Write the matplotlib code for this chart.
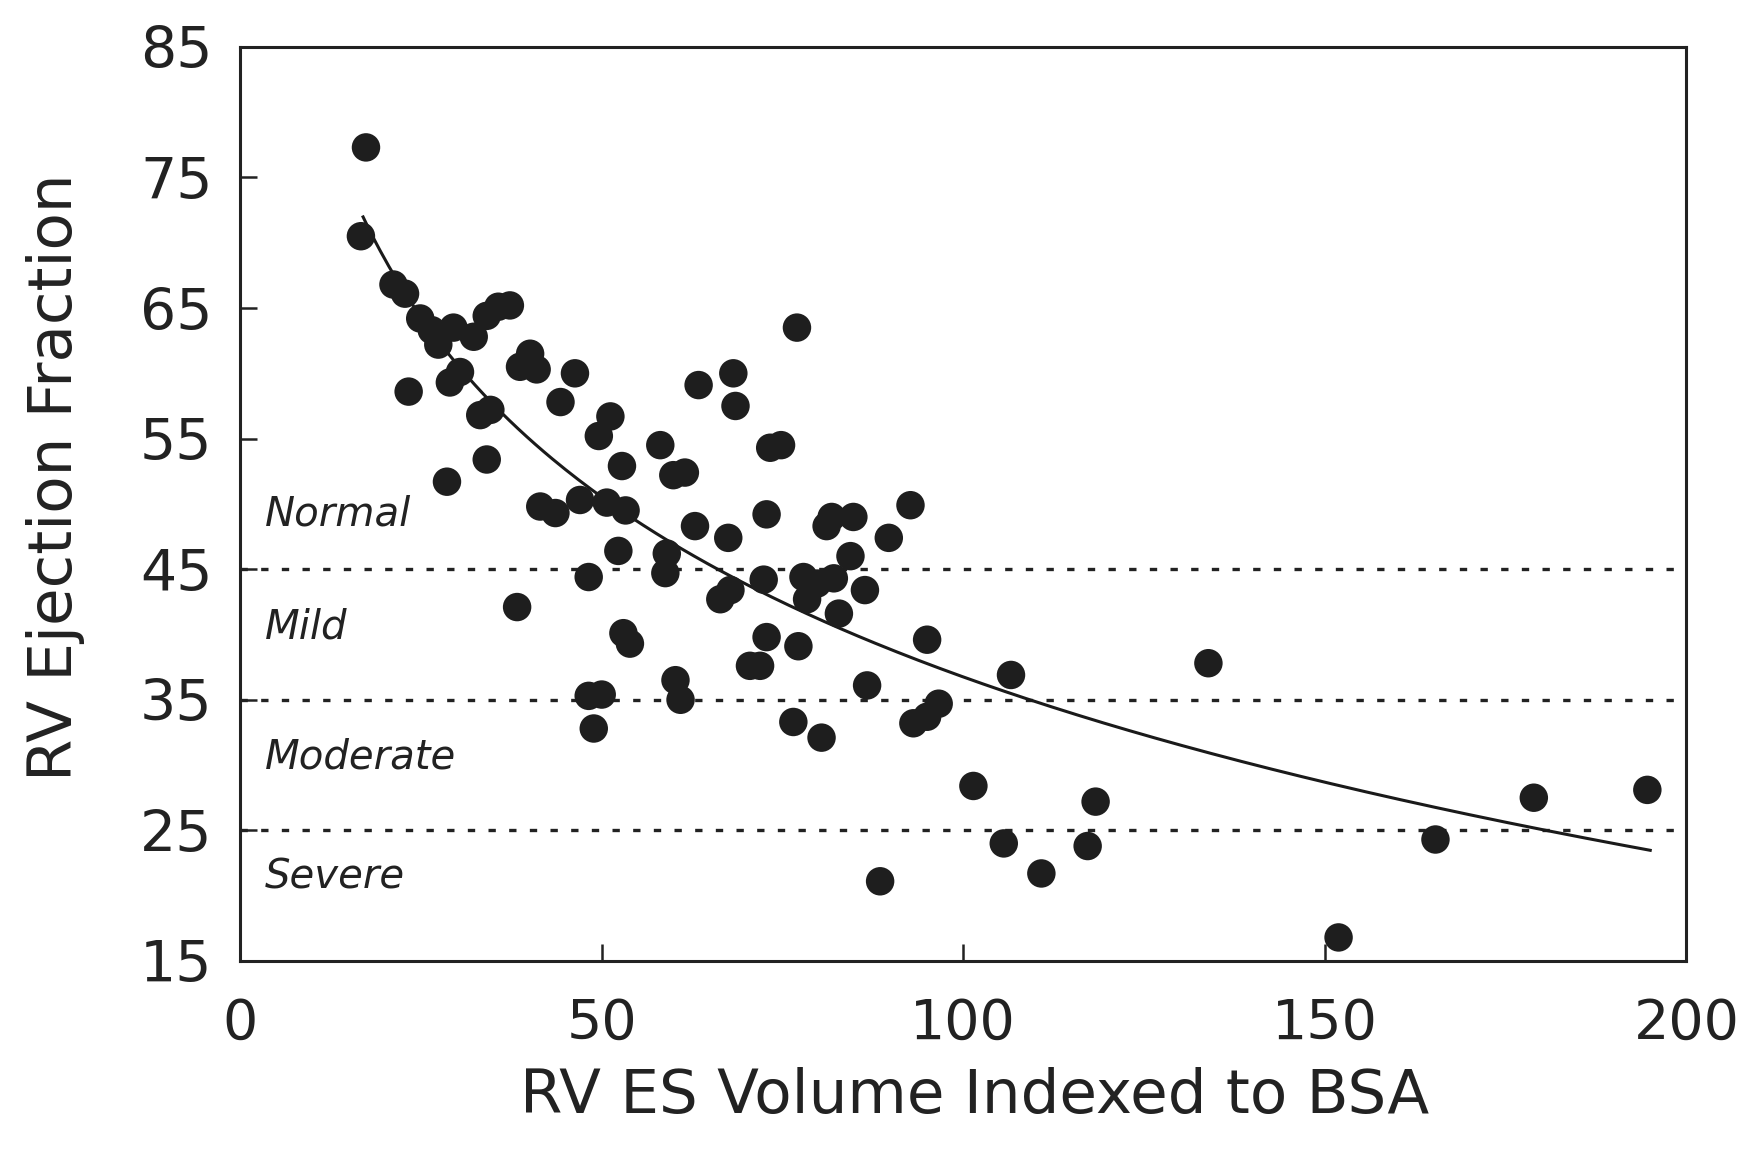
import numpy as np
import matplotlib
matplotlib.use("Agg")
import matplotlib.pyplot as plt

plt.rcParams['font.family'] = ['DejaVu Sans']

# RV ES volume indexed to BSA (x) and RV ejection fraction (y)
es_volume = [
    17.4, 16.7, 21.2, 22.8, 24.9, 26.5, 27.4, 29.5, 32.3, 34.1, 35.7, 37.3,
    30.4, 29.0, 23.3, 33.2, 34.6, 34.1, 28.6,
    40.1, 38.7, 41.0, 46.3, 44.3, 51.2, 49.6, 52.8, 58.1, 59.9, 61.5, 63.4,
    68.2, 68.5, 77.0, 73.3, 74.8,
    41.5, 43.6, 47.0, 50.7, 53.3,
    38.3, 52.3, 48.2, 62.9, 59.0, 58.8, 67.5, 72.8, 66.4, 67.8, 72.4, 53.0,
    53.9, 72.8, 77.2, 70.5, 71.9, 48.2, 50.0, 48.9, 60.2, 60.9, 86.7, 76.5,
    80.4, 92.7, 89.7, 81.1, 81.8, 84.8, 84.4, 77.9, 79.8, 82.1, 78.4, 82.8,
    86.4, 95.0, 93.1, 95.0, 96.6,
    106.6, 133.9, 101.4, 118.3, 105.6, 117.2, 110.8, 88.5, 151.9, 165.3,
    178.9, 194.6,
]
ejection_fraction = [
    77.3, 70.5, 66.8, 66.1, 64.2, 63.3, 62.2, 63.5, 62.8, 64.4, 65.1, 65.2,
    60.1, 59.3, 58.6, 56.8, 57.2, 53.4, 51.7,
    61.5, 60.5, 60.3, 60.0, 57.8, 56.7, 55.2, 52.9, 54.5, 52.2, 52.4, 59.1,
    60.0, 57.5, 63.5, 54.3, 54.5,
    49.8, 49.3, 50.3, 50.1, 49.5,
    42.1, 46.4, 44.4, 48.3, 46.2, 44.7, 47.4, 49.2, 42.7, 43.4, 44.2, 40.1,
    39.3, 39.8, 39.1, 37.6, 37.6, 35.3, 35.4, 32.8, 36.5, 35.0, 36.1, 33.3,
    32.1, 49.9, 47.4, 48.3, 49.0, 49.0, 46.0, 44.4, 43.9, 44.3, 42.7, 41.6,
    43.4, 39.6, 33.2, 33.7, 34.7,
    36.9, 37.8, 28.4, 27.2, 24.0, 23.8, 21.7, 21.1, 16.8, 24.3,
    27.5, 28.1,
]

# logarithmic trend line drawn in the figure: EF = a + b*ln(x)
trend_a = 128.3
trend_b = -19.88
trend_range = [17.0, 195.0]

thresholds = [45, 35, 25]
category_labels = ["Normal", "Mild", "Moderate", "Severe"]
category_y = [49.2, 40.6, 30.6, 21.4]

x_ticks = [0, 50, 100, 150, 200]
y_ticks = [15, 25, 35, 45, 55, 65, 75, 85]

fig = plt.figure(figsize=(17.53, 11.60), dpi=100)
ax = fig.add_axes([0.137, 0.1716, 0.825, 0.788])

for t in thresholds:
    ax.axhline(t, color='#222222', lw=2.4, ls=(0, (2.2, 4.0)), zorder=1)

ax.scatter(es_volume, ejection_fraction, s=420, color='#1e1e1e', zorder=3,
           edgecolors='none')

xs = np.linspace(trend_range[0], trend_range[1], 300)
ax.plot(xs, trend_a + trend_b * np.log(xs), color='#1a1a1a', lw=2.2, zorder=2)

for lab, yy in zip(category_labels, category_y):
    ax.text(3.4, yy, lab, fontsize=29, style='italic', va='center',
            ha='left', color='#222222')

ax.set_xlim(0, 200)
ax.set_ylim(15, 85)
ax.set_xticks(x_ticks)
ax.set_yticks(y_ticks)
ax.tick_params(direction='in', length=12, width=1.8, labelsize=40,
               colors='#222222')
ax.tick_params(axis='x', pad=26)
ax.tick_params(axis='y', pad=20, labelsize=41)
for sp in ax.spines.values():
    sp.set_linewidth(2.2)
    sp.set_color('#222222')

ax.set_xlabel("RV ES Volume Indexed to BSA", fontsize=44, color='#222222')
ax.set_ylabel("RV Ejection Fraction", fontsize=44, color='#222222')
ax.xaxis.set_label_coords(0.508, -0.116)
ax.yaxis.set_label_coords(-0.107, 0.529)

fig.savefig("out.png", dpi=100, facecolor='white')
